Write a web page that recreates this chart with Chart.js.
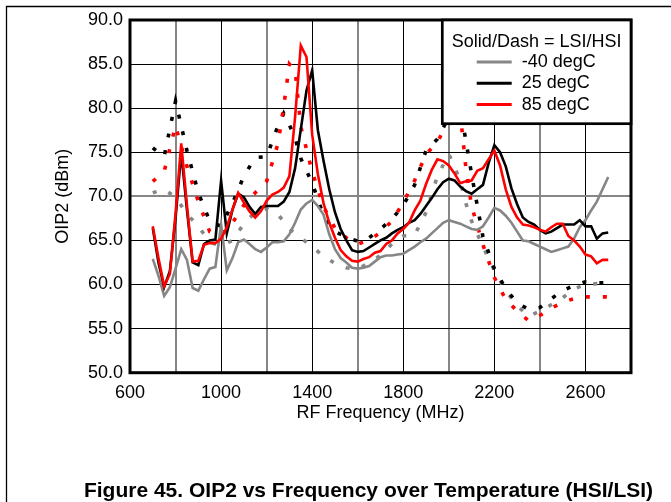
<!DOCTYPE html>
<html lang="en">
<head>
<meta charset="UTF-8">
<title>OIP2 vs Frequency over Temperature</title>
<script src="https://cdn.jsdelivr.net/npm/chart.js"></script>
<style>
  html, body { margin: 0; padding: 0; background: #fff; }
  canvas { display: block; }
</style>
</head>
<body>
<canvas id="oip2Chart" width="671" height="502"></canvas>
<script>
// LSI (solid) sweep, MHz
const freqLsi = [700, 725, 750, 775, 800, 825, 850, 875, 900, 925,
  950, 975, 1000, 1025, 1050, 1075, 1100, 1125, 1150, 1175,
  1200, 1225, 1250, 1275, 1300, 1325, 1350, 1375, 1400, 1425,
  1450, 1475, 1500, 1525, 1550, 1575, 1600, 1625, 1650, 1675,
  1700, 1725, 1750, 1775, 1800, 1825, 1850, 1875, 1900, 1925,
  1950, 1975, 2000, 2025, 2050, 2075, 2100, 2125, 2150, 2175,
  2200, 2225, 2250, 2275, 2300, 2325, 2350, 2375, 2400, 2425,
  2450, 2475, 2500, 2525, 2550, 2575, 2600, 2625, 2650, 2675, 2700];

const lsi85 = [66.6, 63.0, 59.8, 61.2, 68.0, 76.0, 69.0, 62.6, 62.7, 64.5,
  64.7, 64.7, 65.2, 66.5, 68.5, 70.4, 69.3, 68.3, 67.6, 68.3,
  69.5, 70.2, 70.5, 71.0, 72.3, 79.0, 87.1, 85.8, 77.0, 72.5,
  69.2, 67.0, 65.3, 63.9, 63.2, 62.7, 62.6, 62.9, 63.1, 63.6,
  63.8, 64.6, 65.0, 65.8, 66.3, 67.0, 68.4, 69.5, 71.4, 73.0,
  74.2, 74.0, 73.5, 72.6, 71.5, 71.7, 71.8, 72.9, 73.2, 74.2,
  75.2, 73.5, 70.8, 68.8, 67.6, 66.8, 66.7, 66.5, 66.2, 66.0,
  66.5, 66.9, 66.9, 65.5, 65.0, 64.3, 63.4, 63.2, 62.4, 62.8, 62.8];

const lsi25 = [66.4, 62.5, 59.7, 61.5, 67.5, 75.0, 68.5, 62.5, 62.2, 64.6,
  65.0, 65.1, 71.8, 65.8, 68.5, 70.3, 69.9, 68.8, 68.0, 68.8,
  68.9, 68.9, 68.9, 69.4, 70.5, 73.2, 77.6, 82.0, 84.3, 77.5,
  74.0, 70.8, 68.2, 66.3, 65.0, 63.9, 63.7, 63.8, 64.2, 64.6,
  65.0, 65.3, 65.8, 66.2, 66.5, 67.0, 67.3, 68.0, 68.9, 69.8,
  70.8, 71.6, 72.0, 71.8, 71.1, 70.6, 70.3, 70.8, 71.3, 73.8,
  75.8, 75.0, 73.4, 70.9, 69.1, 67.6, 67.1, 66.8, 66.2, 65.8,
  66.0, 66.4, 66.8, 66.8, 66.8, 67.3, 66.6, 66.6, 65.2, 65.8, 65.9];

const lsiMinus40 = [62.9, 61.0, 58.7, 59.7, 61.8, 64.0, 62.8, 59.6, 59.3, 60.6,
  61.8, 62.0, 66.8, 61.6, 63.0, 64.8, 65.1, 64.6, 64.0, 63.7,
  64.2, 64.8, 64.8, 64.9, 65.7, 67.0, 68.5, 69.2, 69.6, 68.9,
  67.9, 65.7, 64.0, 63.0, 62.5, 61.9, 61.8, 61.9, 62.1, 62.6,
  63.1, 63.3, 63.3, 63.4, 63.5, 63.9, 64.3, 64.8, 65.2, 65.8,
  66.4, 67.0, 67.3, 67.1, 66.9, 66.6, 66.3, 66.2, 66.6, 67.6,
  68.7, 68.4, 67.8, 67.0, 66.0, 65.0, 64.9, 64.6, 64.3, 64.0,
  63.7, 63.9, 64.1, 64.3, 65.2, 66.5, 67.3, 68.4, 69.4, 70.8, 72.2];

// HSI (dashed) sweep, MHz
const freqHsi = [700, 750, 800, 850, 900, 950, 1000, 1050, 1100, 1150,
  1200, 1250, 1275, 1300, 1325, 1350, 1400, 1450, 1500, 1550,
  1600, 1650, 1700, 1750, 1800, 1850, 1900, 1950, 2000, 2050,
  2075, 2100, 2150, 2200, 2250, 2300, 2350, 2400, 2450, 2500,
  2550, 2600, 2650, 2700];

const hsi85 = [71.7, 72.8, 78.0, 73.4, 69.4, 66.0, 65.6, 67.0, 69.0, 70.4,
  71.7, 76.0, 80.2, 85.0, 84.3, 77.9, 72.8, 68.8, 66.4, 65.3,
  64.6, 65.0, 65.9, 67.2, 69.3, 71.8, 74.8, 76.1, 78.8, 79.5,
  73.2, 68.9, 64.5, 60.8, 58.3, 57.0, 55.9, 56.5, 57.3, 58.0,
  58.4, 58.6, 58.6, 58.6];

const hsi25 = [75.5, 74.5, 80.8, 75.2, 70.4, 67.2, 66.6, 69.2, 72.3, 74.4,
  74.5, 78.0, 79.4, 78.1, 76.6, 74.3, 71.5, 67.8, 66.0, 65.4,
  64.9, 65.3, 66.3, 67.4, 69.0, 71.3, 75.2, 76.5, 79.0, 80.0,
  76.3, 72.5, 65.4, 61.8, 59.5, 57.9, 57.2, 57.4, 58.4, 59.3,
  59.9, 60.3, 60.2, 60.2];

const hsiMinus40 = [70.4, 70.8, 69.9, 68.0, 66.6, 64.8, 64.4, 65.0, 66.9, 68.2,
  68.6, 67.9, 67.2, 66.3, 65.8, 65.3, 64.3, 63.2, 62.4, 61.9,
  61.7, 62.5, 63.3, 64.6, 65.5, 65.6, 68.2, 72.3, 74.8, 71.8,
  69.2, 67.2, 64.3, 61.6, 59.3, 57.6, 56.4, 57.0, 57.7, 58.5,
  59.5, 60.0, 60.1, 60.1];

const legendTitle = 'Solid/Dash = LSI/HSI';
const legendOrder = ['-40 degC', '25 degC', '85 degC'];
const caption = 'Figure 45. OIP2 vs Frequency over Temperature (HSI/LSI)';

const FONT = "'Liberation Sans', Arial, Helvetica, sans-serif";
const RED = '#ff0000';
const BLACK = '#000000';
const GRAY = '#868686';

function points(freqs, values) {
    return freqs.map((f, i) => ({ x: f, y: values[i] }));
}

function solid(label, color, values) {
    return {
        label: label,
        data: points(freqLsi, values),
        borderColor: color,
        borderWidth: 2.6,
        pointRadius: 0,
        tension: 0,
        fill: false,
    };
}

function dashed(label, color, values) {
    return {
        label: label + ' HSI',
        data: points(freqHsi, values),
        borderColor: color,
        borderWidth: 3.6,
        borderDash: [4, 13],
        borderCapStyle: 'butt',
        pointRadius: 0,
        tension: 0,
        fill: false,
    };
}

// frame, legend box and caption
const decorations = {
    id: 'decorations',
    beforeDraw(chart) {
        const ctx = chart.ctx;
        ctx.save();
        ctx.fillStyle = '#fff';
        ctx.fillRect(0, 0, chart.width, chart.height);
        ctx.strokeStyle = '#000';
        ctx.lineWidth = 1.3;
        ctx.beginPath();
        ctx.moveTo(6.5, chart.height);
        ctx.lineTo(6.5, 6.5);
        ctx.lineTo(chart.width, 6.5);
        ctx.stroke();
        ctx.restore();
    },
    afterDatasetsDraw(chart) {
        const { ctx, chartArea: a } = chart;
        ctx.save();
        ctx.strokeStyle = '#000';
        ctx.lineWidth = 3;
        ctx.strokeRect(a.left, a.top, a.right - a.left, a.bottom - a.top);

        const lw = 188.7, lh = 103.7;
        const lx = a.right - lw, ly = a.top;
        ctx.fillStyle = '#fff';
        ctx.fillRect(lx, ly, lw, lh);
        ctx.lineWidth = 2.7;
        ctx.strokeRect(lx, ly, lw, lh);

        ctx.fillStyle = '#000';
        ctx.font = '18px ' + FONT;
        ctx.textBaseline = 'middle';
        ctx.textAlign = 'center';
        ctx.fillText(legendTitle, lx + lw / 2, ly + 22);

        ctx.textAlign = 'left';
        legendOrder.forEach((name, i) => {
            const ds = chart.data.datasets.find(d => d.label === name);
            const y = ly + 42 + i * 21.3;
            ctx.strokeStyle = ds.borderColor;
            ctx.lineWidth = 3;
            ctx.beginPath();
            ctx.moveTo(lx + 34.4, y);
            ctx.lineTo(lx + 69.4, y);
            ctx.stroke();
            ctx.fillStyle = '#000';
            ctx.fillText(name, lx + 79.4, y);
        });
        ctx.restore();
    },
    afterDraw(chart) {
        const ctx = chart.ctx;
        ctx.save();
        ctx.fillStyle = '#000';
        ctx.font = 'bold 21px ' + FONT;
        ctx.textAlign = 'center';
        ctx.textBaseline = 'alphabetic';
        ctx.fillText(caption, 368.5, 497);
        ctx.restore();
    },
};

const ctx = document.getElementById('oip2Chart').getContext('2d');

new Chart(ctx, {
    type: 'line',
    data: {
        datasets: [
            solid('85 degC', RED, lsi85),
            solid('25 degC', BLACK, lsi25),
            solid('-40 degC', GRAY, lsiMinus40),
            dashed('85 degC', RED, hsi85),
            dashed('25 degC', BLACK, hsi25),
            dashed('-40 degC', GRAY, hsiMinus40),
        ],
    },
    options: {
        responsive: false,
        animation: false,
        devicePixelRatio: 1,
        layout: { padding: { left: 0, top: 20, right: 40, bottom: 0 } },
        plugins: {
            legend: { display: false },
            tooltip: { enabled: false },
        },
        scales: {
            x: {
                type: 'linear',
                min: 600,
                max: 2800,
                afterFit(scale) { scale.height = 129.3; },
                border: { display: false },
                grid: {
                    drawTicks: false,
                    color: c => (c.tick && (c.tick.value - 600) % 400 === 0 ? BLACK : GRAY),
                    lineWidth: c => (c.tick && (c.tick.value - 600) % 400 === 0 ? 1 : 2),
                },
                ticks: {
                    stepSize: 200,
                    autoSkip: false,
                    maxRotation: 0,
                    padding: 10,
                    color: '#000',
                    font: { family: FONT, size: 18 },
                    callback: v => ((v - 600) % 400 === 0 && v < 2800 ? String(v) : ''),
                },
                title: {
                    display: true,
                    text: 'RF Frequency (MHz)',
                    color: '#000',
                    font: { family: FONT, size: 18 },
                    padding: { top: 0, bottom: 77.7 },
                },
            },
            y: {
                min: 50,
                max: 90,
                afterFit(scale) { scale.width = 130; },
                border: { display: false },
                grid: {
                    drawTicks: false,
                    color: c => (c.tick && c.tick.value === 70 ? GRAY : BLACK),
                    lineWidth: c => (c.tick && c.tick.value === 70 ? 2 : 1),
                },
                ticks: {
                    stepSize: 5,
                    padding: 7,
                    color: '#000',
                    font: { family: FONT, size: 18 },
                    callback: v => v.toFixed(1),
                },
                title: {
                    display: true,
                    text: 'OIP2 (dBm)',
                    color: '#000',
                    font: { family: FONT, size: 18 },
                    padding: { top: 52.7, bottom: 0 },
                },
            },
        },
    },
    plugins: [decorations],
});
</script>
</body>
</html>
